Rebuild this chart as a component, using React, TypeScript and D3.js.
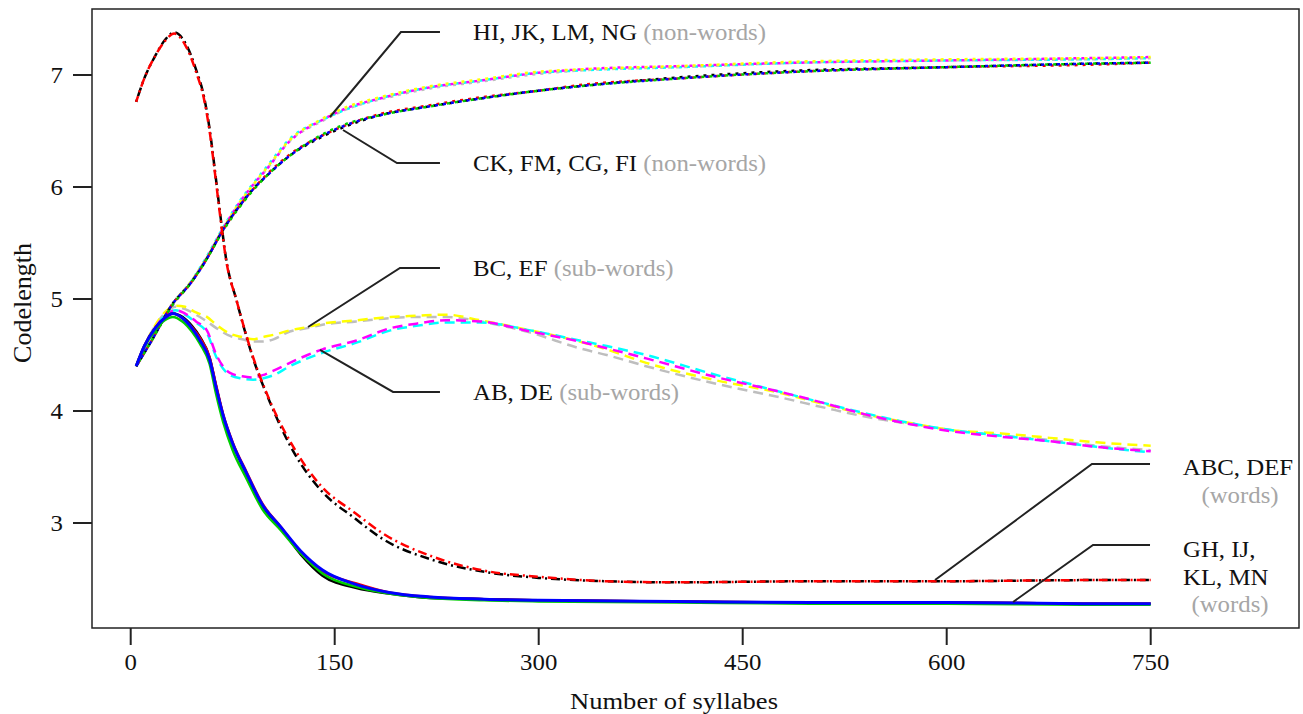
import React from 'react'
import * as d3 from 'd3'

const W = 1303
const H = 714
const font = '"Liberation Serif", "Times New Roman", serif'

// x positions (number of syllabes) for each family of curves
const wordsSolidX = [4, 10, 18, 25, 31, 38, 45, 51, 58, 63, 68, 75, 85, 97, 110, 125, 141, 166, 190, 220, 260, 300, 400, 500, 600, 700, 750]
const wordsDashX = [4, 10, 18, 25, 32, 40, 48, 54, 58, 62, 66, 70, 78, 90, 102, 120, 140, 165, 185, 222, 262, 300, 350, 400, 500, 600, 700, 750]
const nonWordsX = [4, 15, 31, 44, 56, 68, 80, 90, 100, 117, 141, 160, 183, 220, 257, 300, 330, 404, 492, 600, 700, 750]
const subWordsX = [4, 15, 25, 33, 40, 48, 56, 63, 73, 82, 90, 97, 105, 117, 130, 141, 166, 191, 210, 232, 257, 294, 330, 350, 379, 428, 478, 510, 540, 570, 603, 640, 676, 710, 750]

// GH, IJ, KL, MN (words) - solid
const ghBlack = [4.40, 4.58, 4.74, 4.83, 4.87, 4.84, 4.76, 4.66, 4.48, 4.21, 3.96, 3.71, 3.44, 3.15, 2.96, 2.72, 2.53, 2.42, 2.37, 2.33, 2.32, 2.31, 2.30, 2.29, 2.29, 2.28, 2.28]
const ghRed = [4.40, 4.58, 4.74, 4.83, 4.87, 4.83, 4.75, 4.65, 4.48, 4.22, 3.97, 3.72, 3.46, 3.17, 2.97, 2.74, 2.57, 2.46, 2.38, 2.34, 2.32, 2.31, 2.30, 2.29, 2.29, 2.28, 2.28]
const ghGreen = [4.40, 4.57, 4.72, 4.81, 4.84, 4.80, 4.71, 4.60, 4.42, 4.14, 3.90, 3.65, 3.40, 3.12, 2.94, 2.73, 2.55, 2.43, 2.37, 2.33, 2.31, 2.30, 2.29, 2.28, 2.28, 2.27, 2.27]
const ghBlue = [4.40, 4.58, 4.74, 4.83, 4.87, 4.83, 4.74, 4.63, 4.46, 4.20, 3.96, 3.71, 3.45, 3.16, 2.97, 2.75, 2.58, 2.45, 2.38, 2.34, 2.32, 2.31, 2.30, 2.29, 2.29, 2.28, 2.28]

// ABC, DEF (words) - dot-dash
const abcBlack = [6.76, 6.97, 7.17, 7.31, 7.38, 7.29, 7.05, 6.80, 6.52, 6.14, 5.74, 5.37, 4.98, 4.47, 4.09, 3.63, 3.29, 3.04, 2.86, 2.67, 2.56, 2.51, 2.48, 2.47, 2.48, 2.48, 2.49, 2.49]
const abcRed = [6.76, 6.97, 7.17, 7.30, 7.37, 7.27, 7.03, 6.78, 6.50, 6.12, 5.72, 5.36, 4.98, 4.48, 4.10, 3.67, 3.33, 3.09, 2.91, 2.70, 2.57, 2.52, 2.48, 2.47, 2.48, 2.48, 2.49, 2.49]

// HI, JK, LM, NG (non-words) - dotted, upper
const hiYellow = [4.40, 4.62, 4.96, 5.15, 5.37, 5.63, 5.86, 6.02, 6.17, 6.42, 6.61, 6.72, 6.80, 6.90, 6.96, 7.03, 7.05, 7.08, 7.12, 7.14, 7.15, 7.16]
const hiCyan = [4.40, 4.62, 4.96, 5.15, 5.38, 5.64, 5.87, 6.03, 6.18, 6.43, 6.60, 6.70, 6.79, 6.89, 6.95, 7.02, 7.04, 7.07, 7.11, 7.13, 7.14, 7.15]
const hiMagenta = [4.40, 4.62, 4.95, 5.14, 5.37, 5.63, 5.86, 6.02, 6.16, 6.41, 6.60, 6.71, 6.79, 6.89, 6.95, 7.02, 7.05, 7.08, 7.11, 7.13, 7.15, 7.16]
const hiGray = [4.40, 4.62, 4.96, 5.15, 5.37, 5.63, 5.85, 6.01, 6.16, 6.41, 6.59, 6.70, 6.78, 6.88, 6.94, 7.01, 7.04, 7.07, 7.11, 7.13, 7.14, 7.15]

// CK, FM, CG, FI (non-words) - dotted, lower
const ckBlack = [4.40, 4.62, 4.96, 5.14, 5.36, 5.62, 5.83, 5.98, 6.10, 6.28, 6.45, 6.55, 6.64, 6.72, 6.79, 6.86, 6.90, 6.98, 7.04, 7.07, 7.10, 7.11]
const ckRed = [4.40, 4.62, 4.96, 5.14, 5.36, 5.62, 5.83, 5.98, 6.11, 6.29, 6.46, 6.56, 6.65, 6.73, 6.80, 6.86, 6.91, 6.97, 7.03, 7.07, 7.09, 7.11]
const ckGreen = [4.40, 4.62, 4.95, 5.14, 5.36, 5.61, 5.82, 5.97, 6.10, 6.28, 6.47, 6.57, 6.64, 6.72, 6.79, 6.86, 6.90, 6.97, 7.03, 7.07, 7.10, 7.11]
const ckBlue = [4.40, 4.62, 4.96, 5.14, 5.36, 5.62, 5.83, 5.98, 6.10, 6.28, 6.46, 6.56, 6.64, 6.72, 6.79, 6.86, 6.90, 6.97, 7.03, 7.07, 7.10, 7.11]

// BC, EF and AB, DE (sub-words) - dashed
const bcYellow = [4.40, 4.70, 4.88, 4.94, 4.93, 4.88, 4.84, 4.77, 4.69, 4.66, 4.64, 4.66, 4.68, 4.72, 4.75, 4.78, 4.81, 4.84, 4.85, 4.86, 4.81, 4.72, 4.62, 4.55, 4.43, 4.28, 4.16, 4.06, 3.97, 3.90, 3.83, 3.80, 3.76, 3.72, 3.69]
const bcGray = [4.40, 4.70, 4.87, 4.93, 4.91, 4.86, 4.80, 4.74, 4.67, 4.64, 4.62, 4.62, 4.64, 4.71, 4.74, 4.77, 4.80, 4.83, 4.84, 4.84, 4.80, 4.70, 4.56, 4.50, 4.40, 4.25, 4.12, 4.03, 3.95, 3.89, 3.83, 3.78, 3.74, 3.69, 3.65]
const abMagenta = [4.40, 4.68, 4.85, 4.90, 4.87, 4.80, 4.72, 4.50, 4.34, 4.31, 4.30, 4.32, 4.36, 4.43, 4.50, 4.55, 4.63, 4.74, 4.78, 4.81, 4.80, 4.71, 4.62, 4.56, 4.47, 4.31, 4.17, 4.07, 3.97, 3.89, 3.82, 3.77, 3.73, 3.68, 3.64]
const abCyan = [4.40, 4.68, 4.85, 4.90, 4.86, 4.79, 4.70, 4.48, 4.32, 4.29, 4.28, 4.29, 4.32, 4.40, 4.47, 4.52, 4.61, 4.72, 4.76, 4.79, 4.79, 4.72, 4.63, 4.58, 4.50, 4.33, 4.17, 4.07, 3.98, 3.90, 3.83, 3.78, 3.73, 3.68, 3.63]

const xTicks = [0, 150, 300, 450, 600, 750]
const yTicks = [3, 4, 5, 6, 7]

const dotted = '3,5'
const dashed = '10,6'
const dotdash = '2,4,9,4'

const series = [
  { xs: subWordsX, ys: bcGray, color: '#bebebe', dash: dashed, off: 0 },
  { xs: subWordsX, ys: bcYellow, color: '#ffff00', dash: dashed, off: 5 },
  { xs: subWordsX, ys: abCyan, color: '#00ffff', dash: dashed, off: 0 },
  { xs: subWordsX, ys: abMagenta, color: '#ff00ff', dash: dashed, off: 6 },
  { xs: nonWordsX, ys: hiGray, color: '#bebebe', dash: dotted, off: 0 },
  { xs: nonWordsX, ys: hiCyan, color: '#00ffff', dash: dotted, off: 4 },
  { xs: nonWordsX, ys: hiMagenta, color: '#ff00ff', dash: dotted, off: 2 },
  { xs: nonWordsX, ys: hiYellow, color: '#ffff00', dash: dotted, off: 6 },
  { xs: nonWordsX, ys: ckBlack, color: '#000000', dash: dotted, off: 0 },
  { xs: nonWordsX, ys: ckRed, color: '#ff0000', dash: dotted, off: 4 },
  { xs: nonWordsX, ys: ckGreen, color: '#00cd00', dash: dotted, off: 2 },
  { xs: nonWordsX, ys: ckBlue, color: '#0000ff', dash: dotted, off: 6 },
  { xs: wordsDashX, ys: abcBlack, color: '#000000', dash: dotdash, off: 0 },
  { xs: wordsDashX, ys: abcRed, color: '#ff0000', dash: dotdash, off: 9 },
  { xs: wordsSolidX, ys: ghBlack, color: '#000000', dash: null, off: 0 },
  { xs: wordsSolidX, ys: ghRed, color: '#ff0000', dash: null, off: 0 },
  { xs: wordsSolidX, ys: ghGreen, color: '#00cd00', dash: null, off: 0 },
  { xs: wordsSolidX, ys: ghBlue, color: '#0000ff', dash: null, off: 0 },
]

// leader lines in data units: start on curve, bend, end
const leaders = [
  { pts: [[146.5, 6.625], [198.7, 7.384], [227.4, 7.384]] },
  { pts: [[156.1, 6.509], [195.8, 6.214], [227.4, 6.214]] },
  { pts: [[130.4, 4.75], [198, 5.277], [227.4, 5.277]] },
  { pts: [[139.2, 4.545], [192.9, 4.17], [227.4, 4.17]] },
  { pts: [[591.4, 2.491], [706.8, 3.527], [749.5, 3.527]] },
  { pts: [[648.8, 2.295], [707.6, 2.804], [749.5, 2.804]] },
]

// text slightly wider than the font, as in the original picture
const T = (props: any) => {
  const { x, y, children, ...rest } = props
  return (
    <text transform={'translate(' + x + ',' + y + ') scale(1.08,1)'} fontSize={23} fill="#111" {...rest}>
      {children}
    </text>
  )
}

export default function App() {
  const x = d3.scaleLinear().domain([0, 750]).range([130.7, 1150.7])
  const y = d3.scaleLinear().domain([3, 7]).range([523, 75])

  const box = { left: 92, top: 9, right: 1299, bottom: 628 }

  const line = d3.line<[number, number]>()
    .x(d => x(d[0]))
    .y(d => y(d[1]))
    .curve(d3.curveMonotoneX)

  const leaderLine = d3.line<number[]>().x(d => x(d[0])).y(d => y(d[1]))

  const labelAt = (i: number) => {
    const p = leaders[i].pts[2]
    return { lx: x(p[0]), ly: y(p[1]) }
  }

  const leftLabels = [
    { main: 'HI, JK, LM, NG', sub: '(non-words)', i: 0 },
    { main: 'CK, FM, CG, FI', sub: '(non-words)', i: 1 },
    { main: 'BC, EF', sub: '(sub-words)', i: 2 },
    { main: 'AB, DE', sub: '(sub-words)', i: 3 },
  ]

  const abc = labelAt(4)
  const gh = labelAt(5)

  return (
    <div style={{ position: 'fixed', left: 0, top: 0 }}>
      <svg width={W} height={H} style={{ display: 'block', background: '#fff' }} fontFamily={font}>
        <defs>
          <clipPath id="plotclip">
            <rect x={box.left} y={box.top} width={box.right - box.left} height={box.bottom - box.top} />
          </clipPath>
        </defs>

        <g clipPath="url(#plotclip)">
          {series.map((s, i) => (
            <path
              key={'s' + i}
              d={line(s.xs.map((v, j) => [v, s.ys[j]]) as [number, number][]) || ''}
              fill="none"
              stroke={s.color}
              strokeWidth={s.color === '#0000ff' && !s.dash ? 3 : 2.5}
              strokeDasharray={s.dash || undefined}
              strokeDashoffset={s.off}
            />
          ))}
        </g>

        {/* annotation leaders */}
        {leaders.map((l, i) => (
          <path key={'l' + i} d={leaderLine(l.pts) || ''} fill="none" stroke="#222" strokeWidth={2} />
        ))}

        {leftLabels.map(l => {
          const p = labelAt(l.i)
          return (
            <T key={l.main} x={p.lx + 33} y={p.ly + 8}>
              {l.main} <tspan fill="#a6a6a6">{l.sub}</tspan>
            </T>
          )
        })}

        <T x={1238} y={abc.ly + 11} textAnchor="middle">ABC, DEF</T>
        <T x={1240} y={abc.ly + 39} textAnchor="middle" fill="#a6a6a6">(words)</T>
        <T x={1183} y={gh.ly + 12}>GH, IJ,</T>
        <T x={1183} y={gh.ly + 40}>KL, MN</T>
        <T x={1230} y={gh.ly + 67} textAnchor="middle" fill="#a6a6a6">(words)</T>

        {/* box */}
        <rect x={box.left} y={box.top} width={box.right - box.left} height={box.bottom - box.top}
          fill="none" stroke="#222" strokeWidth={1.5} />

        {/* x axis */}
        {xTicks.map(t => (
          <g key={'x' + t}>
            <line x1={x(t)} x2={x(t)} y1={box.bottom} y2={box.bottom + 17} stroke="#222" strokeWidth={2} />
            <T x={x(t)} y={box.bottom + 42} textAnchor="middle">{t}</T>
          </g>
        ))}

        {/* y axis */}
        {yTicks.map(t => (
          <g key={'y' + t}>
            <line x1={box.left - 19} x2={box.left} y1={y(t)} y2={y(t)} stroke="#222" strokeWidth={2} />
            <T x={box.left - 29} y={y(t) + 8} textAnchor="end">{t}</T>
          </g>
        ))}

        <text x={674} y={709} fontSize={23} textAnchor="middle" fill="#111" textLength={208} lengthAdjust="spacingAndGlyphs">
          Number of syllabes
        </text>
        <text x={0} y={0} transform={'translate(31,303) rotate(-90)'} fontSize={26} textAnchor="middle" fill="#111">
          Codelength
        </text>
      </svg>
    </div>
  )
}
